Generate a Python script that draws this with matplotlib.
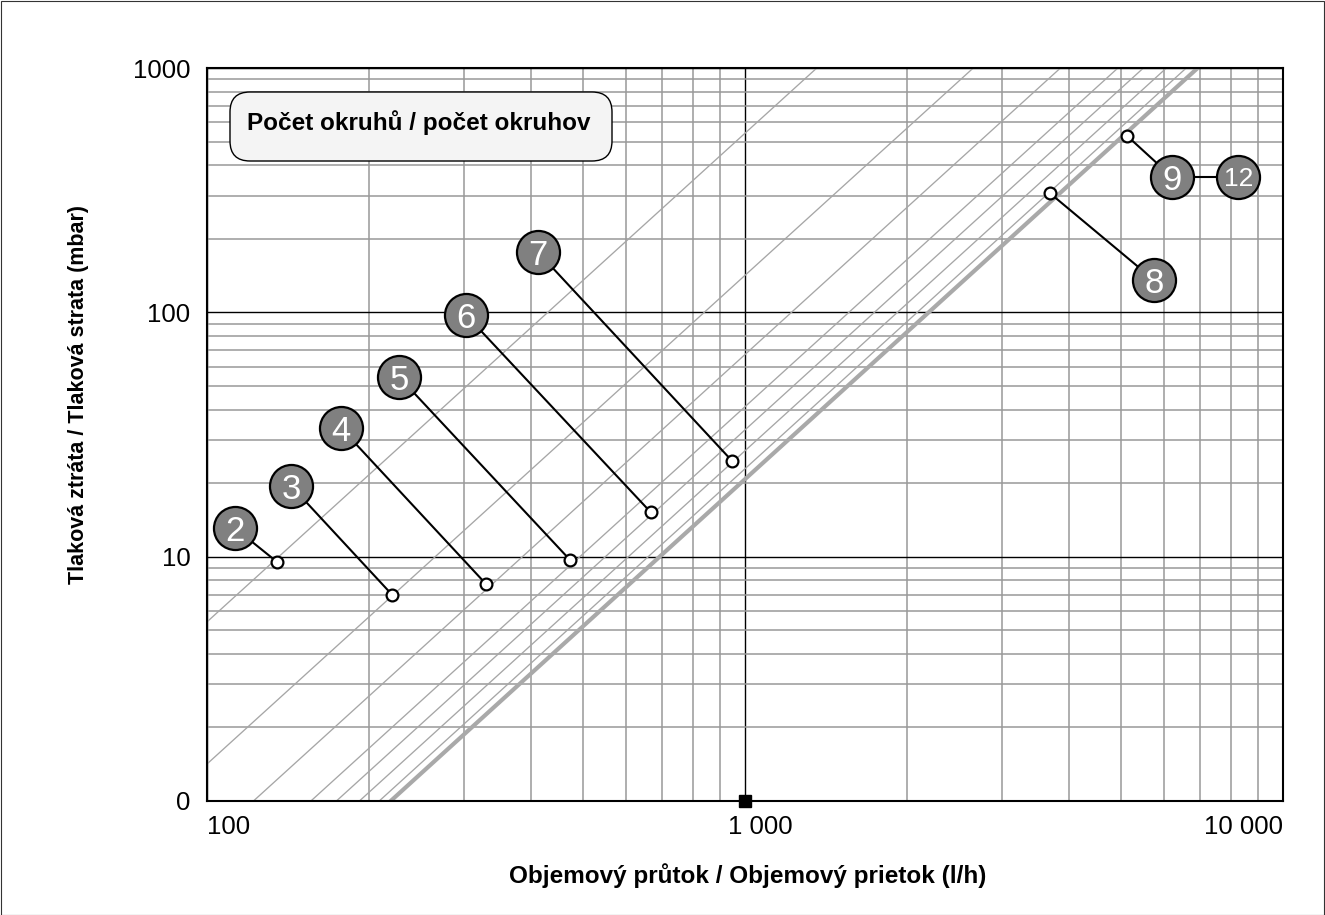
import numpy as np
import matplotlib
matplotlib.use("Agg")
import matplotlib.pyplot as plt
from matplotlib.patches import FancyBboxPatch, Rectangle
from matplotlib.ticker import FixedLocator, NullFormatter
from matplotlib.transforms import ScaledTranslation

plt.rcParams['font.family'] = ['Liberation Sans', 'DejaVu Sans']

# ---- data ----
# characteristic curves: dp = (Q / q_at_1mbar)^2
curve_q_at_1mbar = [43, 84, 122, 156, 174, 192, 209]
main_curve_q_at_1mbar = 219.5

# operating points per number of circuits
circuits = ['2', '3', '4', '5', '6', '7', '8', '9']
point_flow = [135, 221, 330, 473, 668, 947, 3690, 5124]
point_dp = [9.51, 6.97, 7.73, 9.69, 15.2, 24.6, 307, 529]
# label bubble anchors (data coordinates)
label_flow = [112.7, 143.3, 177.5, 227.5, 303, 412, 5755, 6210]
label_dp = [13.1, 19.5, 33.6, 54.4, 97.6, 176.7, 135.7, 359]
extra_label = '12'
extra_label_flow = 8262
extra_label_dp = 359

x_ticks = [100, 1000, 10000]
x_ticklabels = ['100', '1 000', '10 000']
y_ticks = [1, 10, 100, 1000]
y_ticklabels = ['0', '10', '100', '1000']

W, H, DPI = 1325, 915, 100
fig = plt.figure(figsize=(W / DPI, H / DPI), dpi=DPI)
ax = fig.add_axes([207 / W, 1 - 801 / H, (1283 - 207) / W, (801 - 68) / H])
ax.set_xscale('log')
ax.set_yscale('log')
ax.set_xlim(100, 10000)
ax.set_ylim(1, 1000)

# grid
minor_x = [m * 10 ** e for e in (2, 3) for m in range(2, 10)]
minor_y = [m * 10 ** e for e in (0, 1, 2) for m in range(2, 10)]
ax.xaxis.set_minor_locator(FixedLocator(minor_x))
ax.yaxis.set_minor_locator(FixedLocator(minor_y))
ax.xaxis.set_minor_formatter(NullFormatter())
ax.yaxis.set_minor_formatter(NullFormatter())
ax.grid(True, which='minor', color='#999999', lw=1.1, zorder=0)
ax.grid(True, which='major', color='black', lw=1.0, zorder=0)
ax.set_axisbelow(True)

ax.set_xticks(x_ticks, labels=x_ticklabels)
ax.set_yticks(y_ticks, labels=y_ticklabels)
ax.tick_params(which='both', length=0)
ax.tick_params(axis='y', pad=12, labelsize=18.5)
ax.tick_params(axis='x', pad=10, labelsize=18.5)
for sp in ax.spines.values():
    sp.set_linewidth(1.5)

# x tick label alignment like the reference
xt = ax.xaxis.get_major_ticks()
xt[0].label1.set_horizontalalignment('left')
xt[2].label1.set_horizontalalignment('right')
xt[1].label1.set_transform(xt[1].label1.get_transform() + ScaledTranslation(0.15, 0, fig.dpi_scale_trans))

# curves
q = np.logspace(1, 4.2, 200)
for q0 in curve_q_at_1mbar:
    ax.plot(q, (q / q0) ** 2, color='#a6a6a6', lw=0.95, zorder=2)
ax.plot(q, (q / main_curve_q_at_1mbar) ** 2, color='#a9a9a9', lw=3.0, zorder=2,
        solid_capstyle='butt')

# leaders, bubbles, points
for lab, px, py, lx, ly in zip(circuits, point_flow, point_dp, label_flow, label_dp):
    ax.plot([lx, px], [ly, py], color='black', lw=1.5, zorder=4)
ax.plot([label_flow[-1], extra_label_flow], [label_dp[-1], extra_label_dp],
        color='black', lw=1.5, zorder=4)
ax.plot(label_flow, label_dp, 'o', ms=31, mfc='#808080', mec='black', mew=1.6, zorder=5)
ax.plot([extra_label_flow], [extra_label_dp], 'o', ms=31, mfc='#808080', mec='black',
        mew=1.6, zorder=5)
for lab, lx, ly in zip(circuits, label_flow, label_dp):
    ax.text(lx, ly, lab, color='white', fontsize=25, ha='center', va='center_baseline',
            zorder=6)
ax.text(extra_label_flow, extra_label_dp, extra_label, color='white', fontsize=19,
        ha='center', va='center_baseline', zorder=6,
        family=['Liberation Sans Narrow', 'Liberation Sans', 'DejaVu Sans'])
ax.plot(point_flow, point_dp, 'o', ms=8.5, mfc='white', mec='black', mew=1.6, zorder=7)

# marker at 1000 on x axis
ax.plot([1000], [1], 's', ms=8.5, color='black', clip_on=False, zorder=8)

# axis labels
ax.set_xlabel('Objemový průtok / Objemový prietok (l/h)', fontsize=17.5, fontweight='bold',
              va='center')
ax.xaxis.set_label_coords((748 - 207) / 1076, (801 - 876) / 733)
ax.set_ylabel('Tlaková ztráta / Tlaková strata (mbar)', fontsize=15.5, fontweight='bold',
              va='center')
ax.yaxis.set_label_coords((79 - 207) / 1076, (801 - 395) / 733)

# legend-like title box
box = FancyBboxPatch((2.30, (H - 161) / DPI), 3.82, 0.69,
                     boxstyle='round,pad=0,rounding_size=0.2',
                     transform=fig.dpi_scale_trans, fc='#f4f4f4', ec='black', lw=1.0,
                     zorder=10)
fig.add_artist(box)
fig.text(247 / W, 1 - 123 / H, 'Počet okruhů / počet okruhov', fontsize=17.5,
         fontweight='bold', ha='left', va='center', zorder=11)

# outer border
fig.add_artist(Rectangle((0.5 / W, 0.5 / H), 1 - 1.5 / W, 1 - 1.5 / H,
                         transform=fig.transFigure, fill=False, ec='#333333', lw=0.8))

fig.savefig('out.png', dpi=DPI)
